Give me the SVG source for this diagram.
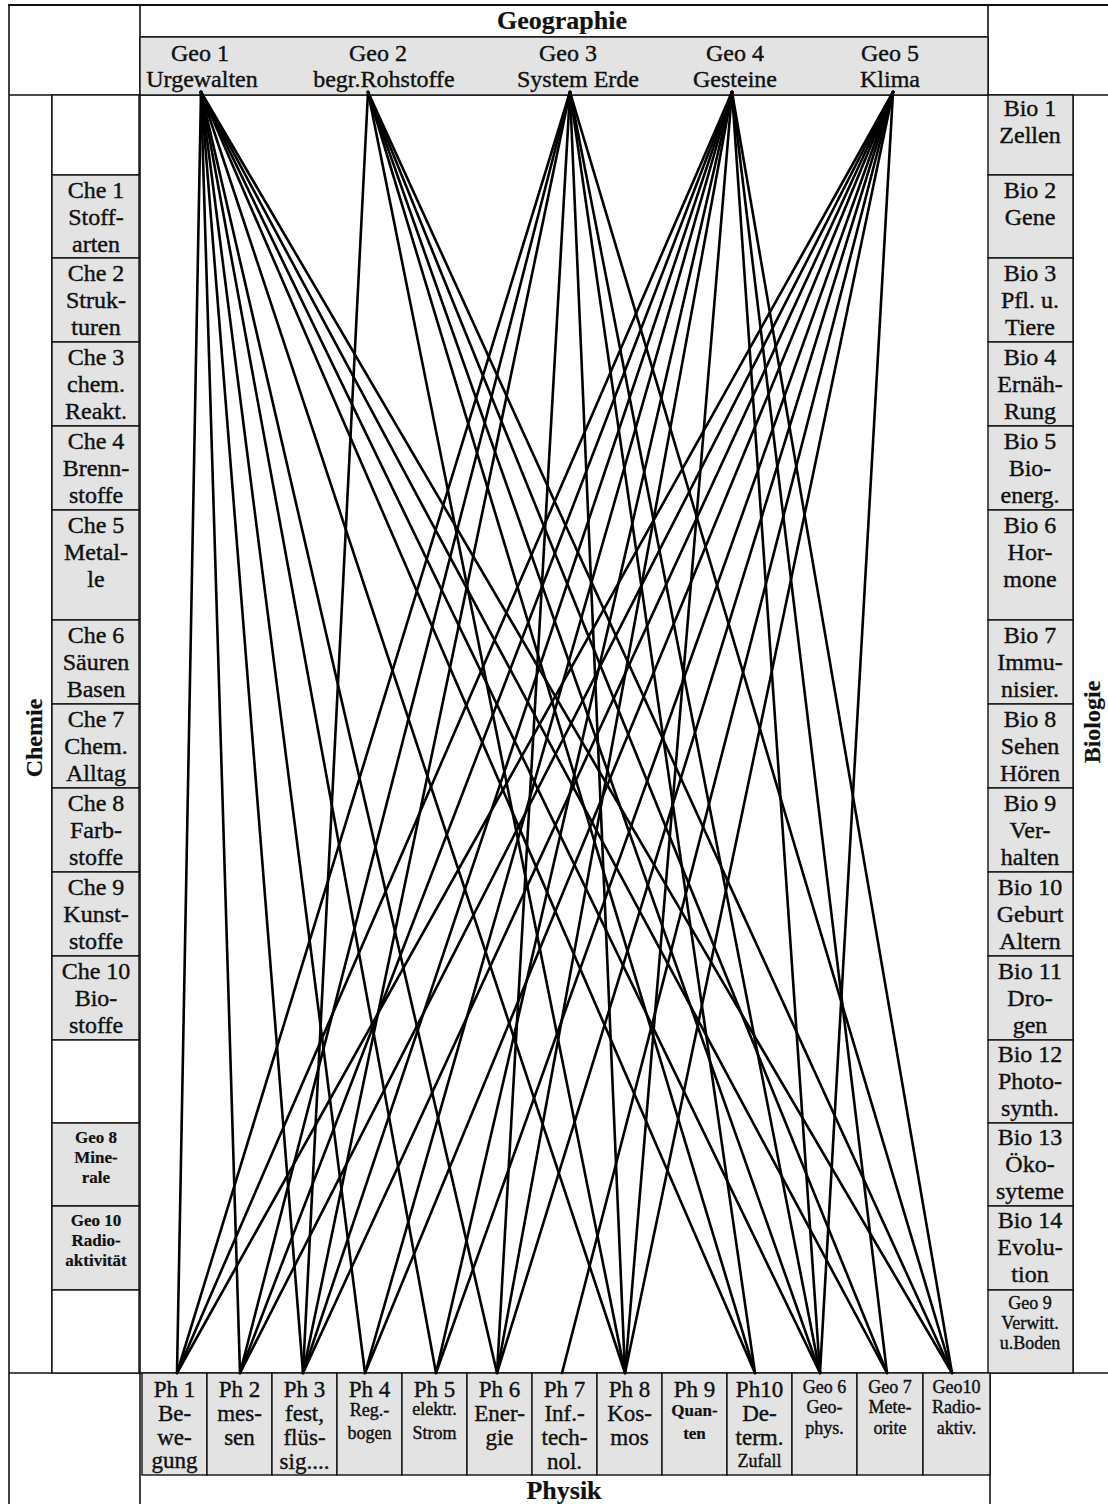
<svg xmlns="http://www.w3.org/2000/svg" width="1108" height="1504" viewBox="0 0 1108 1504">
<style>
.fr{stroke:#111;stroke-width:1.6;fill:none}
.box{fill:#e3e3e3;stroke:#111;stroke-width:1.4}
.wbox{fill:#fff;stroke:#111;stroke-width:1.4}
text{font-family:"Liberation Serif","Times New Roman",serif;fill:#111;stroke:#111;stroke-width:0.4px;text-anchor:middle}
.t{font-size:24px}
.p{font-size:23px}
.s{font-size:18px}
.xs{font-size:17px;font-weight:bold;stroke-width:0.2px}
.h{font-size:26px;font-weight:bold;stroke-width:0.2px}
.hv{font-size:24px;font-weight:bold;stroke-width:0.2px}
.c line{stroke:#000;stroke-width:2.6;stroke-linecap:round}
</style>
<rect width="1108" height="1504" fill="#fff"/>
<g id="frame">
<line class="fr" x1="8" y1="5" x2="1108" y2="5" style="stroke-width:2.2"/>
<line class="fr" x1="9" y1="5" x2="9" y2="1504"/>
<line class="fr" x1="140" y1="5" x2="140" y2="1504"/>
<line class="fr" x1="988" y1="5" x2="988" y2="95"/>
<line class="fr" x1="990" y1="1373" x2="990" y2="1504"/>
<line class="fr" x1="140" y1="37" x2="988" y2="37"/>
<line class="fr" x1="9" y1="95" x2="1108" y2="95"/>
<line class="fr" x1="52" y1="95" x2="52" y2="1373"/>
<line class="fr" x1="1073" y1="95" x2="1073" y2="1373"/>
<line class="fr" x1="9" y1="1373" x2="1108" y2="1373"/>
</g>
<g id="geographie-header"><text class="h" x="562" y="29">Geographie</text></g>
<g id="geo-row">
<rect class="box" x="140" y="37" width="848" height="58"/>
</g>
<g id="geo1"><text class="t" x="200" y="61">Geo 1</text><text class="t" x="202" y="87">Urgewalten</text></g>
<g id="geo2"><text class="t" x="378" y="61">Geo 2</text><text class="t" x="384" y="87">begr.Rohstoffe</text></g>
<g id="geo3"><text class="t" x="568" y="61">Geo 3</text><text class="t" x="578" y="87">System Erde</text></g>
<g id="geo4"><text class="t" x="735" y="61">Geo 4</text><text class="t" x="735" y="87">Gesteine</text></g>
<g id="geo5"><text class="t" x="890" y="61">Geo 5</text><text class="t" x="890" y="87">Klima</text></g>

<g id="chemie-label"><text class="hv" transform="translate(42,738) rotate(-90)">Chemie</text></g>
<g id="che-empty1"><rect class="wbox" x="52" y="95" width="87" height="80"/></g>
<g id="che1"><rect class="box" x="52" y="175" width="87" height="83"/><text class="t" x="96" y="198">Che 1</text><text class="t" x="96" y="225">Stoff-</text><text class="t" x="96" y="252">arten</text></g>
<g id="che2"><rect class="box" x="52" y="258" width="87" height="84"/><text class="t" x="96" y="281">Che 2</text><text class="t" x="96" y="308">Struk-</text><text class="t" x="96" y="335">turen</text></g>
<g id="che3"><rect class="box" x="52" y="342" width="87" height="84"/><text class="t" x="96" y="365">Che 3</text><text class="t" x="96" y="392">chem.</text><text class="t" x="96" y="419">Reakt.</text></g>
<g id="che4"><rect class="box" x="52" y="426" width="87" height="84"/><text class="t" x="96" y="449">Che 4</text><text class="t" x="96" y="476">Brenn-</text><text class="t" x="96" y="503">stoffe</text></g>
<g id="che5"><rect class="box" x="52" y="510" width="87" height="110"/><text class="t" x="96" y="533">Che 5</text><text class="t" x="96" y="560">Metal-</text><text class="t" x="96" y="587">le</text></g>
<g id="che6"><rect class="box" x="52" y="620" width="87" height="84"/><text class="t" x="96" y="643">Che 6</text><text class="t" x="96" y="670">Säuren</text><text class="t" x="96" y="697">Basen</text></g>
<g id="che7"><rect class="box" x="52" y="704" width="87" height="84"/><text class="t" x="96" y="727">Che 7</text><text class="t" x="96" y="754">Chem.</text><text class="t" x="96" y="781">Alltag</text></g>
<g id="che8"><rect class="box" x="52" y="788" width="87" height="84"/><text class="t" x="96" y="811">Che 8</text><text class="t" x="96" y="838">Farb-</text><text class="t" x="96" y="865">stoffe</text></g>
<g id="che9"><rect class="box" x="52" y="872" width="87" height="84"/><text class="t" x="96" y="895">Che 9</text><text class="t" x="96" y="922">Kunst-</text><text class="t" x="96" y="949">stoffe</text></g>
<g id="che10"><rect class="box" x="52" y="956" width="87" height="84"/><text class="t" x="96" y="979">Che 10</text><text class="t" x="96" y="1006">Bio-</text><text class="t" x="96" y="1033">stoffe</text></g>
<g id="che-empty2"><rect class="wbox" x="52" y="1040" width="87" height="83"/></g>
<g id="geo8"><rect class="box" x="52" y="1123" width="87" height="83"/><text class="xs" x="96" y="1143">Geo 8</text><text class="xs" x="96" y="1163">Mine-</text><text class="xs" x="96" y="1183">rale</text></g>
<g id="geo10l"><rect class="box" x="52" y="1206" width="87" height="84"/><text class="xs" x="96" y="1226">Geo 10</text><text class="xs" x="96" y="1246">Radio-</text><text class="xs" x="96" y="1266">aktivität</text></g>
<g id="che-empty3"><rect class="wbox" x="52" y="1290" width="87" height="83"/></g>

<g id="biologie-label"><text class="hv" transform="translate(1100,722) rotate(-90)">Biologie</text></g>
<g id="bio1"><rect class="box" x="988" y="95" width="85" height="80"/><text class="t" x="1030" y="116">Bio 1</text><text class="t" x="1030" y="143">Zellen</text></g>
<g id="bio2"><rect class="box" x="988" y="175" width="85" height="83"/><text class="t" x="1030" y="198">Bio 2</text><text class="t" x="1030" y="225">Gene</text></g>
<g id="bio3"><rect class="box" x="988" y="258" width="85" height="84"/><text class="t" x="1030" y="281">Bio 3</text><text class="t" x="1030" y="308">Pfl. u.</text><text class="t" x="1030" y="335">Tiere</text></g>
<g id="bio4"><rect class="box" x="988" y="342" width="85" height="84"/><text class="t" x="1030" y="365">Bio 4</text><text class="t" x="1030" y="392">Ernäh-</text><text class="t" x="1030" y="419">Rung</text></g>
<g id="bio5"><rect class="box" x="988" y="426" width="85" height="84"/><text class="t" x="1030" y="449">Bio 5</text><text class="t" x="1030" y="476">Bio-</text><text class="t" x="1030" y="503">energ.</text></g>
<g id="bio6"><rect class="box" x="988" y="510" width="85" height="110"/><text class="t" x="1030" y="533">Bio 6</text><text class="t" x="1030" y="560">Hor-</text><text class="t" x="1030" y="587">mone</text></g>
<g id="bio7"><rect class="box" x="988" y="620" width="85" height="84"/><text class="t" x="1030" y="643">Bio 7</text><text class="t" x="1030" y="670">Immu-</text><text class="t" x="1030" y="697">nisier.</text></g>
<g id="bio8"><rect class="box" x="988" y="704" width="85" height="84"/><text class="t" x="1030" y="727">Bio 8</text><text class="t" x="1030" y="754">Sehen</text><text class="t" x="1030" y="781">Hören</text></g>
<g id="bio9"><rect class="box" x="988" y="788" width="85" height="84"/><text class="t" x="1030" y="811">Bio 9</text><text class="t" x="1030" y="838">Ver-</text><text class="t" x="1030" y="865">halten</text></g>
<g id="bio10"><rect class="box" x="988" y="872" width="85" height="84"/><text class="t" x="1030" y="895">Bio 10</text><text class="t" x="1030" y="922">Geburt</text><text class="t" x="1030" y="949">Altern</text></g>
<g id="bio11"><rect class="box" x="988" y="956" width="85" height="84"/><text class="t" x="1030" y="979">Bio 11</text><text class="t" x="1030" y="1006">Dro-</text><text class="t" x="1030" y="1033">gen</text></g>
<g id="bio12"><rect class="box" x="988" y="1040" width="85" height="83"/><text class="t" x="1030" y="1062">Bio 12</text><text class="t" x="1030" y="1089">Photo-</text><text class="t" x="1030" y="1116">synth.</text></g>
<g id="bio13"><rect class="box" x="988" y="1123" width="85" height="83"/><text class="t" x="1030" y="1145">Bio 13</text><text class="t" x="1030" y="1172">Öko-</text><text class="t" x="1030" y="1199">syteme</text></g>
<g id="bio14"><rect class="box" x="988" y="1206" width="85" height="84"/><text class="t" x="1030" y="1228">Bio 14</text><text class="t" x="1030" y="1255">Evolu-</text><text class="t" x="1030" y="1282">tion</text></g>
<g id="geo9"><rect class="box" x="988" y="1290" width="85" height="83"/><text class="s" x="1030" y="1309">Geo 9</text><text class="s" x="1030" y="1329">Verwitt.</text><text class="s" x="1030" y="1349">u.Boden</text></g>

<g id="ph1"><rect class="box" x="142" y="1373" width="65" height="102"/><text class="p" x="174.5" y="1397">Ph 1</text><text class="p" x="174.5" y="1421">Be-</text><text class="p" x="174.5" y="1445">we-</text><text class="p" x="174.5" y="1468">gung</text></g>
<g id="ph2"><rect class="box" x="207" y="1373" width="65" height="102"/><text class="p" x="239.5" y="1397">Ph 2</text><text class="p" x="239.5" y="1421">mes-</text><text class="p" x="239.5" y="1445">sen</text></g>
<g id="ph3"><rect class="box" x="272" y="1373" width="65" height="102"/><text class="p" x="304.5" y="1397">Ph 3</text><text class="p" x="304.5" y="1421">fest,</text><text class="p" x="304.5" y="1445">flüs-</text><text class="p" x="304.5" y="1469">sig....</text></g>
<g id="ph4"><rect class="box" x="337" y="1373" width="65" height="102"/><text class="p" x="369.5" y="1397">Ph 4</text><text class="s" x="369.5" y="1416">Reg.-</text><text class="s" x="369.5" y="1439">bogen</text></g>
<g id="ph5"><rect class="box" x="402" y="1373" width="65" height="102"/><text class="p" x="434.5" y="1397">Ph 5</text><text class="s" x="434.5" y="1415">elektr.</text><text class="s" x="434.5" y="1439">Strom</text></g>
<g id="ph6"><rect class="box" x="467" y="1373" width="65" height="102"/><text class="p" x="499.5" y="1397">Ph 6</text><text class="p" x="499.5" y="1421">Ener-</text><text class="p" x="499.5" y="1445">gie</text></g>
<g id="ph7"><rect class="box" x="532" y="1373" width="65" height="102"/><text class="p" x="564.5" y="1397">Ph 7</text><text class="p" x="564.5" y="1421">Inf.-</text><text class="p" x="564.5" y="1445">tech-</text><text class="p" x="564.5" y="1469">nol.</text></g>
<g id="ph8"><rect class="box" x="597" y="1373" width="65" height="102"/><text class="p" x="629.5" y="1397">Ph 8</text><text class="p" x="629.5" y="1421">Kos-</text><text class="p" x="629.5" y="1445">mos</text></g>
<g id="ph9"><rect class="box" x="662" y="1373" width="65" height="102"/><text class="p" x="694.5" y="1397">Ph 9</text><text class="xs" x="694.5" y="1416">Quan-</text><text class="xs" x="694.5" y="1439">ten</text></g>
<g id="ph10"><rect class="box" x="727" y="1373" width="65" height="102"/><text class="p" x="759.5" y="1397">Ph10</text><text class="p" x="759.5" y="1421">De-</text><text class="p" x="759.5" y="1445">term.</text><text class="s" x="759.5" y="1467">Zufall</text></g>
<g id="geo6"><rect class="box" x="792" y="1373" width="65" height="102"/><text class="s" x="824.5" y="1393">Geo 6</text><text class="s" x="824.5" y="1413">Geo-</text><text class="s" x="824.5" y="1434">phys.</text></g>
<g id="geo7"><rect class="box" x="857" y="1373" width="66" height="102"/><text class="s" x="890" y="1393">Geo 7</text><text class="s" x="890" y="1413">Mete-</text><text class="s" x="890" y="1434">orite</text></g>
<g id="geo10"><rect class="box" x="923" y="1373" width="67" height="102"/><text class="s" x="956.5" y="1393">Geo10</text><text class="s" x="956.5" y="1413">Radio-</text><text class="s" x="956.5" y="1434">aktiv.</text></g>
<g id="physik-label"><text class="h" x="564" y="1499">Physik</text></g>

<g id="connectors" class="c">
<line x1="201" y1="92" x2="177" y2="1373"/>
<line x1="201" y1="92" x2="240" y2="1373"/>
<line x1="201" y1="92" x2="303" y2="1373"/>
<line x1="201" y1="92" x2="365" y2="1373"/>
<line x1="201" y1="92" x2="436" y2="1373"/>
<line x1="201" y1="92" x2="497" y2="1373"/>
<line x1="201" y1="92" x2="625" y2="1373"/>
<line x1="201" y1="92" x2="755" y2="1373"/>
<line x1="201" y1="92" x2="820" y2="1373"/>
<line x1="201" y1="92" x2="887" y2="1373"/>
<line x1="201" y1="92" x2="952" y2="1373"/>

<line x1="368" y1="92" x2="303" y2="1373"/>
<line x1="368" y1="92" x2="625" y2="1373"/>
<line x1="368" y1="92" x2="755" y2="1373"/>
<line x1="368" y1="92" x2="820" y2="1373"/>
<line x1="368" y1="92" x2="887" y2="1373"/>
<line x1="368" y1="92" x2="952" y2="1373"/>

<line x1="570" y1="92" x2="177" y2="1373"/>
<line x1="570" y1="92" x2="240" y2="1373"/>
<line x1="570" y1="92" x2="303" y2="1373"/>
<line x1="570" y1="92" x2="497" y2="1373"/>
<line x1="570" y1="92" x2="625" y2="1373"/>
<line x1="570" y1="92" x2="755" y2="1373"/>
<line x1="570" y1="92" x2="820" y2="1373"/>
<line x1="570" y1="92" x2="952" y2="1373"/>

<line x1="732" y1="92" x2="177" y2="1373"/>
<line x1="732" y1="92" x2="240" y2="1373"/>
<line x1="732" y1="92" x2="303" y2="1373"/>
<line x1="732" y1="92" x2="365" y2="1373"/>
<line x1="732" y1="92" x2="436" y2="1373"/>
<line x1="732" y1="92" x2="497" y2="1373"/>
<line x1="732" y1="92" x2="625" y2="1373"/>
<line x1="732" y1="92" x2="820" y2="1373"/>
<line x1="732" y1="92" x2="887" y2="1373"/>
<line x1="732" y1="92" x2="952" y2="1373"/>

<line x1="893" y1="92" x2="177" y2="1373"/>
<line x1="893" y1="92" x2="240" y2="1373"/>
<line x1="893" y1="92" x2="303" y2="1373"/>
<line x1="893" y1="92" x2="365" y2="1373"/>
<line x1="893" y1="92" x2="436" y2="1373"/>
<line x1="893" y1="92" x2="497" y2="1373"/>
<line x1="893" y1="92" x2="562" y2="1373"/>
<line x1="893" y1="92" x2="625" y2="1373"/>
<line x1="893" y1="92" x2="820" y2="1373"/>
</g>
</svg>
